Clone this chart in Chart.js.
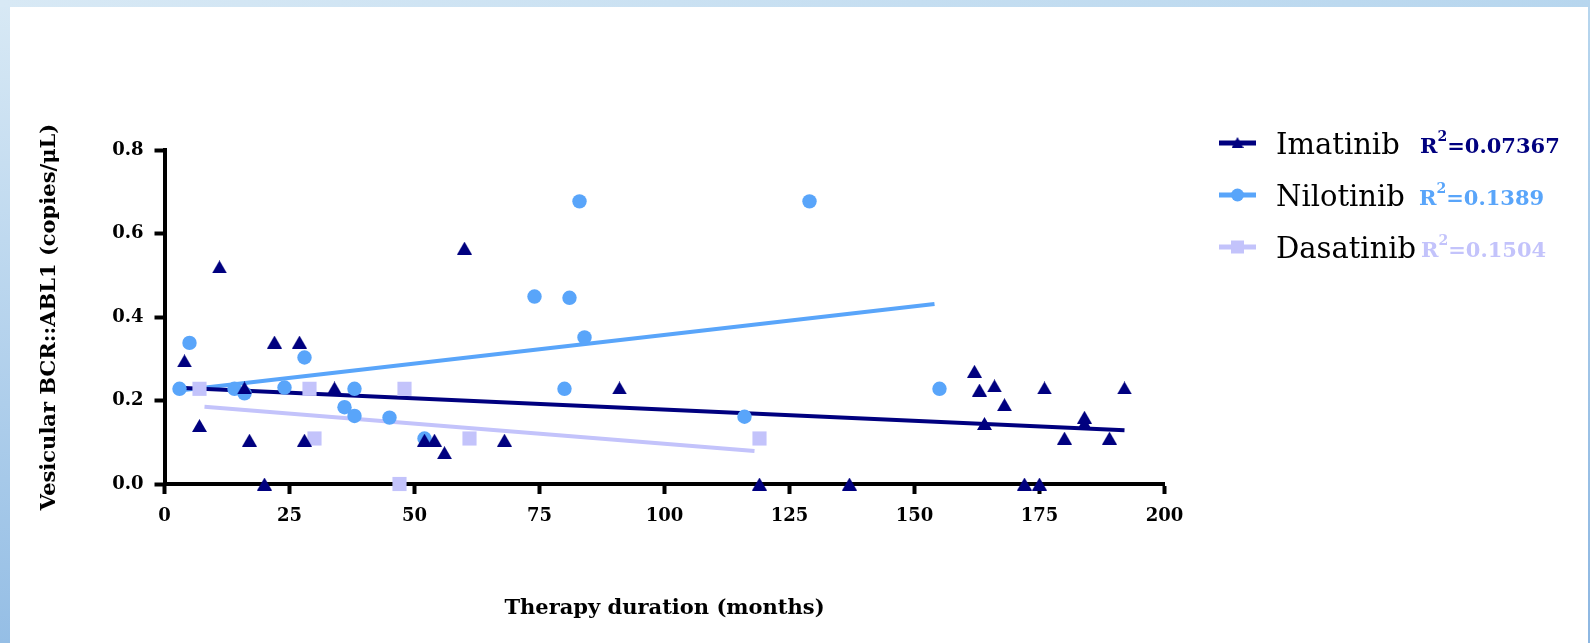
<!DOCTYPE html>
<html>
<head>
<meta charset="utf-8">
<title>Vesicular BCR::ABL1 vs therapy duration</title>
<script src="https://cdn.jsdelivr.net/npm/chart.js@4/dist/chart.umd.min.js"></script>
<style>
  html, body { margin: 0; padding: 0; background: #fff; }
  #frame { position: relative; width: 1590px; height: 643px; overflow: hidden; background: #fff; }
  #leftBand { position: absolute; left: 0; top: 0; width: 10px; height: 643px;
              background: linear-gradient(to bottom, #d8e9f5, #95bee5); }
  #topBand { position: absolute; left: 0; top: 0; width: 1590px; height: 7px;
             background: linear-gradient(to right, #d8e9f5, #b7d6ee); }
  #rightEdge { position: absolute; left: 1588px; top: 0; width: 2px; height: 643px;
               background: linear-gradient(to bottom, #b7d6ee, #8db7e2); }
  #chart { position: absolute; left: 0; top: 0; }
</style>
</head>
<body>
<div id="frame">
  <div id="leftBand"></div>
  <div id="topBand"></div>
  <div id="rightEdge"></div>
  <canvas id="chart" width="1590" height="643"></canvas>
</div>
<script>
// ---- data -------------------------------------------------------------
const seriesNames = ['Imatinib', 'Nilotinib', 'Dasatinib'];
const rSquared = ['0.07367', '0.1389', '0.1504'];

const imatinibMonths = [4, 7, 11, 16, 17, 20, 22, 27, 28, 34, 52, 54, 56, 60, 68, 91, 119, 137,
                        162, 163, 164, 166, 168, 172, 175, 176, 180, 184, 184, 189, 192];
const imatinibCopies = [0.295, 0.14, 0.52, 0.23, 0.105, 0, 0.34, 0.34, 0.105, 0.23, 0.105, 0.105, 0.075, 0.565, 0.105, 0.23, 0, 0,
                        0.27, 0.225, 0.145, 0.235, 0.19, 0, 0, 0.23, 0.11, 0.145, 0.16, 0.11, 0.23];

const nilotinibMonths = [3, 5, 14, 16, 24, 28, 36, 38, 38, 45, 52, 74, 80, 81, 83, 84, 116, 129, 155];
const nilotinibCopies = [0.228, 0.338, 0.228, 0.217, 0.231, 0.303, 0.184, 0.228, 0.163, 0.159, 0.109,
                         0.449, 0.228, 0.446, 0.677, 0.351, 0.161, 0.677, 0.228];

const dasatinibMonths = [7, 29, 30, 47, 48, 61, 119];
const dasatinibCopies = [0.228, 0.228, 0.109, 0, 0.228, 0.109, 0.109];

// linear fit lines (end points)
const imatinibFitMonths = [4, 192];
const imatinibFitCopies = [0.23, 0.129];
const nilotinibFitMonths = [3, 154];
const nilotinibFitCopies = [0.224, 0.431];
const dasatinibFitMonths = [8, 118];
const dasatinibFitCopies = [0.185, 0.079];

const xTicks = [0, 25, 50, 75, 100, 125, 150, 175, 200];
const yTickLabels = ['0.0', '0.2', '0.4', '0.6', '0.8'];

// ---- styling ----------------------------------------------------------
const NAVY = '#00007f';
const SKY = '#59a5fa';
const LAVENDER = '#c3c3fb';
const SERIF = '"DejaVu Serif", "Liberation Serif", serif';

const pairs = (xs, ys) => xs.map((x, i) => ({ x, y: ys[i] }));

// triangle marker centred on its bounding box
function triangleMark(w, h, color) {
  const c = document.createElement('canvas');
  c.width = w; c.height = h;
  const g = c.getContext('2d');
  g.fillStyle = color;
  g.beginPath();
  g.moveTo(w / 2, 0);
  g.lineTo(w, h);
  g.lineTo(0, h);
  g.closePath();
  g.fill();
  return c;
}
const triPlot = triangleMark(15, 13, NAVY);
const triLegend = triangleMark(12, 11, NAVY);

// legend drawn to the right of the plot
const sideLegend = {
  id: 'sideLegend',
  afterDraw(chart) {
    const g = chart.ctx;
    const rows = [143, 195, 247];
    const colors = [NAVY, SKY, LAVENDER];
    const r2x = [1420, 1419, 1421];
    g.save();
    rows.forEach((y, i) => {
      // line sample
      g.strokeStyle = colors[i];
      g.lineWidth = 5;
      g.beginPath();
      g.moveTo(1219, y);
      g.lineTo(1256, y);
      g.stroke();
      // marker sample
      g.fillStyle = colors[i];
      if (i === 0) {
        g.drawImage(triLegend, 1237.5 - 6, y - 6);
      } else if (i === 1) {
        g.beginPath();
        g.arc(1237.5, y, 6.5, 0, Math.PI * 2);
        g.fill();
      } else {
        g.fillRect(1237.5 - 6.5, y - 6.5, 13, 13);
      }
      // series name
      g.fillStyle = '#000';
      g.textBaseline = 'alphabetic';
      g.textAlign = 'left';
      g.font = '29px ' + SERIF;
      g.fillText(seriesNames[i], 1276, y + 11);
      // R² label
      let x = r2x[i];
      g.fillStyle = colors[i];
      g.font = 'bold 21px ' + SERIF;
      g.fillText('R', x, y + 9.5);
      x += g.measureText('R').width;
      g.font = 'bold 14px ' + SERIF;
      g.fillText('2', x, y - 2);
      x += g.measureText('2').width;
      g.font = 'bold 21px ' + SERIF;
      g.fillText('=' + rSquared[i], x, y + 9.5);
    });
    g.restore();
  }
};

const tickFont = { family: SERIF, size: 18, weight: 'bold' };
const titleFont = { family: SERIF, size: 21, weight: 'bold' };

new Chart(document.getElementById('chart'), {
  type: 'scatter',
  data: {
    datasets: [
      { label: seriesNames[0], data: pairs(imatinibMonths, imatinibCopies),
        pointStyle: triPlot, pointRadius: 7, order: 0, clip: false },
      { label: seriesNames[1], data: pairs(nilotinibMonths, nilotinibCopies),
        pointStyle: 'circle', pointRadius: 7.2, pointBorderWidth: 0,
        backgroundColor: SKY, borderColor: SKY, order: 1, clip: false },
      { label: seriesNames[2], data: pairs(dasatinibMonths, dasatinibCopies),
        pointStyle: 'rect', pointRadius: 10, pointBorderWidth: 0,
        backgroundColor: LAVENDER, borderColor: LAVENDER, order: 2, clip: false },
      { label: seriesNames[0] + ' fit', data: pairs(imatinibFitMonths, imatinibFitCopies),
        showLine: true, pointRadius: 0, borderColor: NAVY, borderWidth: 4, order: 3 },
      { label: seriesNames[1] + ' fit', data: pairs(nilotinibFitMonths, nilotinibFitCopies),
        showLine: true, pointRadius: 0, borderColor: SKY, borderWidth: 4, order: 4 },
      { label: seriesNames[2] + ' fit', data: pairs(dasatinibFitMonths, dasatinibFitCopies),
        showLine: true, pointRadius: 0, borderColor: LAVENDER, borderWidth: 4, order: 5 }
    ]
  },
  options: {
    responsive: false,
    animation: false,
    events: [],
    layout: { padding: { left: 0, right: 425.5, top: 150, bottom: 0 } },
    plugins: { legend: { display: false }, tooltip: { enabled: false } },
    scales: {
      x: {
        type: 'linear',
        min: xTicks[0],
        max: xTicks[xTicks.length - 1],
        afterBuildTicks: s => { s.ticks = xTicks.map(v => ({ value: v })); },
        ticks: { font: tickFont, color: '#000', padding: 12, maxRotation: 0, autoSkip: false },
        grid: { drawOnChartArea: false, drawTicks: true, tickLength: 10, tickWidth: 4, tickColor: '#000' },
        border: { display: true, color: '#000', width: 4 },
        title: { display: true, text: 'Therapy duration (months)', font: titleFont, color: '#000',
                 padding: { top: 0, bottom: 21.5 } },
        afterFit: s => { s.height = 159; }
      },
      y: {
        type: 'linear',
        min: 0,
        max: 0.8,
        afterBuildTicks: s => { s.ticks = yTickLabels.map(t => ({ value: parseFloat(t) })); },
        ticks: { font: tickFont, color: '#000', padding: 11,
                 callback: (v, i) => yTickLabels[i] },
        grid: { drawOnChartArea: false, drawTicks: true, tickLength: 10, tickWidth: 4, tickColor: '#000' },
        border: { display: true, color: '#000', width: 4 },
        title: { display: true, text: 'Vesicular BCR::ABL1 (copies/μL)', font: titleFont, color: '#000',
                 padding: { top: 36.5, bottom: 0 } },
        afterFit: s => { s.width = 164.5; }
      }
    }
  },
  plugins: [sideLegend]
});
</script>
</body>
</html>
